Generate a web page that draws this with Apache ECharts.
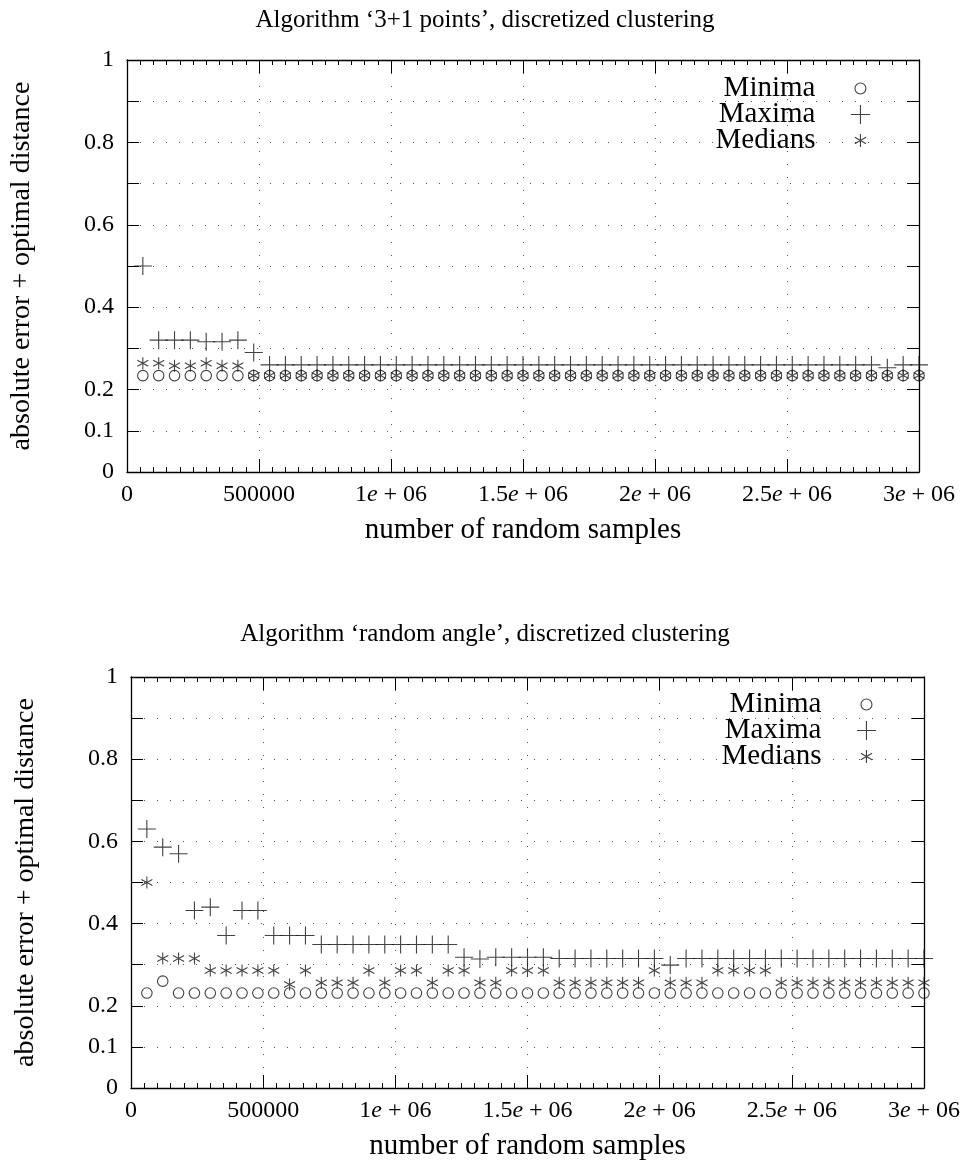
<!DOCTYPE html>
<html>
<head>
<meta charset="utf-8">
<title>discretized clustering</title>
<script src="https://cdn.jsdelivr.net/npm/echarts@6/dist/echarts.min.js"></script>
<style>
  html, body { margin: 0; padding: 0; background: #fff; }
  #chart { width: 970px; height: 1171px; }
</style>
</head>
<body>
<div id="chart"></div>
<script>
// number of random samples (x of every point)
const samples = [
  60000, 120000, 180000, 240000, 300000, 360000, 420000, 480000, 540000, 600000,
  660000, 720000, 780000, 840000, 900000, 960000, 1020000, 1080000, 1140000, 1200000,
  1260000, 1320000, 1380000, 1440000, 1500000, 1560000, 1620000, 1680000, 1740000, 1800000,
  1860000, 1920000, 1980000, 2040000, 2100000, 2160000, 2220000, 2280000, 2340000, 2400000,
  2460000, 2520000, 2580000, 2640000, 2700000, 2760000, 2820000, 2880000, 2940000, 3000000
];

// Algorithm '3+1 points'
const pointsMinima = [
  0.234, 0.234, 0.234, 0.234, 0.234, 0.234, 0.234, 0.234, 0.234, 0.234,
  0.234, 0.234, 0.234, 0.234, 0.234, 0.234, 0.234, 0.234, 0.234, 0.234,
  0.234, 0.234, 0.234, 0.234, 0.234, 0.234, 0.234, 0.234, 0.234, 0.234,
  0.234, 0.234, 0.234, 0.234, 0.234, 0.234, 0.234, 0.234, 0.234, 0.234,
  0.234, 0.234, 0.234, 0.234, 0.234, 0.234, 0.234, 0.234, 0.234, 0.234
];
const pointsMaxima = [
  0.50, 0.32, 0.32, 0.32, 0.316, 0.316, 0.32, 0.29, 0.26, 0.26,
  0.26, 0.26, 0.26, 0.26, 0.26, 0.26, 0.26, 0.26, 0.26, 0.26,
  0.26, 0.26, 0.26, 0.26, 0.26, 0.26, 0.26, 0.26, 0.26, 0.26,
  0.26, 0.26, 0.26, 0.26, 0.26, 0.26, 0.26, 0.26, 0.26, 0.26,
  0.26, 0.26, 0.26, 0.26, 0.26, 0.26, 0.26, 0.253, 0.26, 0.26
];
const pointsMedians = [
  0.264, 0.264, 0.258, 0.258, 0.264, 0.258, 0.258, 0.234, 0.234, 0.234,
  0.234, 0.234, 0.234, 0.234, 0.234, 0.234, 0.234, 0.234, 0.234, 0.234,
  0.234, 0.234, 0.234, 0.234, 0.234, 0.234, 0.234, 0.234, 0.234, 0.234,
  0.234, 0.234, 0.234, 0.234, 0.234, 0.234, 0.234, 0.234, 0.234, 0.234,
  0.234, 0.234, 0.234, 0.234, 0.234, 0.234, 0.234, 0.234, 0.234, 0.234
];

// Algorithm 'random angle'
const angleMinima = [
  0.231, 0.26, 0.231, 0.231, 0.231, 0.231, 0.231, 0.231, 0.231, 0.231,
  0.231, 0.231, 0.231, 0.231, 0.231, 0.231, 0.231, 0.231, 0.231, 0.231,
  0.231, 0.231, 0.231, 0.231, 0.231, 0.231, 0.231, 0.231, 0.231, 0.231,
  0.231, 0.231, 0.231, 0.231, 0.231, 0.231, 0.231, 0.231, 0.231, 0.231,
  0.231, 0.231, 0.231, 0.231, 0.231, 0.231, 0.231, 0.231, 0.231, 0.231
];
const angleMaxima = [
  0.63, 0.586, 0.57, 0.432, 0.44, 0.371, 0.432, 0.432, 0.371, 0.371,
  0.371, 0.349, 0.349, 0.349, 0.349, 0.349, 0.349, 0.349, 0.349, 0.349,
  0.318, 0.314, 0.318, 0.318, 0.318, 0.318, 0.315, 0.315, 0.315, 0.315,
  0.315, 0.315, 0.315, 0.299, 0.315, 0.315, 0.315, 0.315, 0.315, 0.315,
  0.315, 0.315, 0.315, 0.315, 0.315, 0.315, 0.315, 0.315, 0.315, 0.315
];
const angleMedians = [
  0.50, 0.315, 0.315, 0.315, 0.286, 0.286, 0.286, 0.286, 0.286, 0.252,
  0.286, 0.256, 0.256, 0.256, 0.286, 0.256, 0.286, 0.286, 0.256, 0.286,
  0.286, 0.256, 0.256, 0.286, 0.286, 0.286, 0.256, 0.256, 0.256, 0.256,
  0.256, 0.256, 0.286, 0.256, 0.256, 0.256, 0.286, 0.286, 0.286, 0.286,
  0.256, 0.256, 0.256, 0.256, 0.256, 0.256, 0.256, 0.256, 0.256, 0.256
];

// tick labels
const xTickValues = [0, 500000, 1000000, 1500000, 2000000, 2500000, 3000000];
const xTickLabels = ['0', '500000', '1e+06', '1.5e+06', '2e+06', '2.5e+06', '3e+06'];
const yTickLabels = ['0', '0.1', '0.2', '0.4', '0.6', '0.8', '1'];

const titles = [
  'Algorithm \u20183+1 points\u2019, discretized clustering',
  'Algorithm \u2018random angle\u2019, discretized clustering'
];

const FONT = "'Liberation Serif', 'DejaVu Serif', serif";
const INK = '#111';

// marker shapes
const PLUS = 'path://M0,8 L16,8 M8,0 L8,16';
const AST = 'path://M6,0 L6,12 M0.8,3 L11.2,9 M0.8,9 L11.2,3';
// legend icons, padded to a 20x20 box so that the sizes stay as drawn
const LEG_CIRCLE = 'path://M0,0 M20,20 M15.5,10 A5.5,5.5 0 1 1 4.5,10 A5.5,5.5 0 1 1 15.5,10 Z';
const LEG_PLUS = 'path://M0,0 M20,20 M0.5,10 L19.5,10 M10,0.5 L10,19.5';
const LEG_AST = 'path://M0,0 M20,20 M10,3.5 L10,16.5 M4.4,6.75 L15.6,13.25 M4.4,13.25 L15.6,6.75';

const panels = [
  { grid: { left: 127, top: 60, width: 792, height: 412 }, legendTop: 69, legendRight: 94,
    minima: pointsMinima, maxima: pointsMaxima, medians: pointsMedians, titleTop: 3 },
  { grid: { left: 131, top: 677, width: 793, height: 411 }, legendTop: 685, legendRight: 88,
    minima: angleMinima, maxima: angleMaxima, medians: angleMedians, titleTop: 617 }
];

function xLabel(value) {
  const idx = xTickValues.indexOf(value);
  if (idx < 0) return '';
  return xTickLabels[idx].replace('e+', '{e|e}{op|+}');
}

function yLabel(value) {
  const text = String(Math.round(value * 10) / 10);
  return yTickLabels.indexOf(text) >= 0 ? text : '';
}

function toPoints(values) {
  return samples.map((x, i) => [x, values[i]]);
}

const dotted = { show: true, lineStyle: { color: '#555', width: 1, type: [1, 12] } };

const option = {
  animation: false,
  backgroundColor: '#fff',
  title: [],
  legend: [],
  grid: [],
  xAxis: [],
  yAxis: [],
  series: []
};

panels.forEach((p, n) => {
  option.title.push({
    text: titles[n], left: 'center', top: p.titleTop,
    textStyle: { fontFamily: FONT, fontWeight: 'normal', fontSize: 25, color: '#000' }
  });
  option.grid.push(Object.assign({ show: false }, p.grid));

  const xBase = {
    gridIndex: n, type: 'value', min: 0, max: 3000000, interval: 500000,
    axisLine: { onZero: false, lineStyle: { color: '#000', width: 1.3 } },
    axisTick: { inside: true, length: 13, lineStyle: { color: '#000' } },
    minorTick: { show: true, splitNumber: 10, length: 5, lineStyle: { color: '#000' } }
  };
  option.xAxis.push(Object.assign({}, xBase, {
    position: 'bottom',
    name: 'number of random samples', nameLocation: 'middle', nameGap: 44,
    nameTextStyle: { fontFamily: FONT, fontSize: 29, color: '#000' },
    splitLine: dotted,
    axisLabel: {
      formatter: xLabel, margin: 11, fontFamily: FONT, fontSize: 24, color: '#000',
      showMinLabel: true, showMaxLabel: true,
      rich: {
        e: { fontFamily: FONT, fontSize: 24, fontStyle: 'italic', color: '#000' },
        op: { fontFamily: FONT, fontSize: 24, color: '#000', padding: [0, 6] }
      }
    }
  }));
  option.xAxis.push(Object.assign({}, xBase, {
    position: 'top', axisLabel: { show: false }, splitLine: { show: false }
  }));

  const yBase = {
    gridIndex: n, type: 'value', min: 0, max: 1, interval: 0.1,
    axisLine: { show: true, onZero: false, lineStyle: { color: '#000', width: 1.3 } },
    axisTick: { show: true, inside: true, length: 12, lineStyle: { color: '#000' } }
  };
  option.yAxis.push(Object.assign({}, yBase, {
    position: 'left',
    name: 'absolute error + optimal distance', nameLocation: 'middle', nameGap: 91,
    nameTextStyle: { fontFamily: FONT, fontSize: 28, color: '#000' },
    splitLine: dotted,
    axisLabel: { formatter: yLabel, margin: 13, fontFamily: FONT, fontSize: 24, color: '#000' }
  }));
  option.yAxis.push(Object.assign({}, yBase, {
    position: 'right', axisLabel: { show: false }, splitLine: { show: false }
  }));

  const axes = { xAxisIndex: n * 2, yAxisIndex: n * 2 };
  option.series.push(Object.assign({
    name: 'Minima', type: 'scatter', symbol: 'circle', symbolSize: 10.5,
    itemStyle: { color: 'transparent', borderColor: INK, borderWidth: 1.1 },
    data: toPoints(p.minima)
  }, axes));
  option.series.push(Object.assign({
    name: 'Maxima', type: 'scatter', symbol: PLUS, symbolSize: 18,
    itemStyle: { color: 'transparent', borderColor: INK, borderWidth: 1.1 },
    data: toPoints(p.maxima)
  }, axes));
  option.series.push(Object.assign({
    name: 'Medians', type: 'scatter', symbol: AST, symbolSize: [11, 12],
    itemStyle: { color: 'transparent', borderColor: INK, borderWidth: 1.1 },
    data: toPoints(p.medians)
  }, axes));

  option.legend.push({
    orient: 'vertical', align: 'right', right: p.legendRight, top: p.legendTop,
    itemWidth: 80, itemHeight: 20, itemGap: -3, selectedMode: false,
    itemStyle: { color: 'transparent', borderColor: INK, borderWidth: 1.1 },
    textStyle: { fontFamily: FONT, fontSize: 29, color: '#000' },
    data: [
      { name: 'Minima', icon: LEG_CIRCLE },
      { name: 'Maxima', icon: LEG_PLUS },
      { name: 'Medians', icon: LEG_AST }
    ]
  });
});

const chart = echarts.init(document.getElementById('chart'), null, { renderer: 'canvas' });
chart.setOption(option);
</script>
</body>
</html>
